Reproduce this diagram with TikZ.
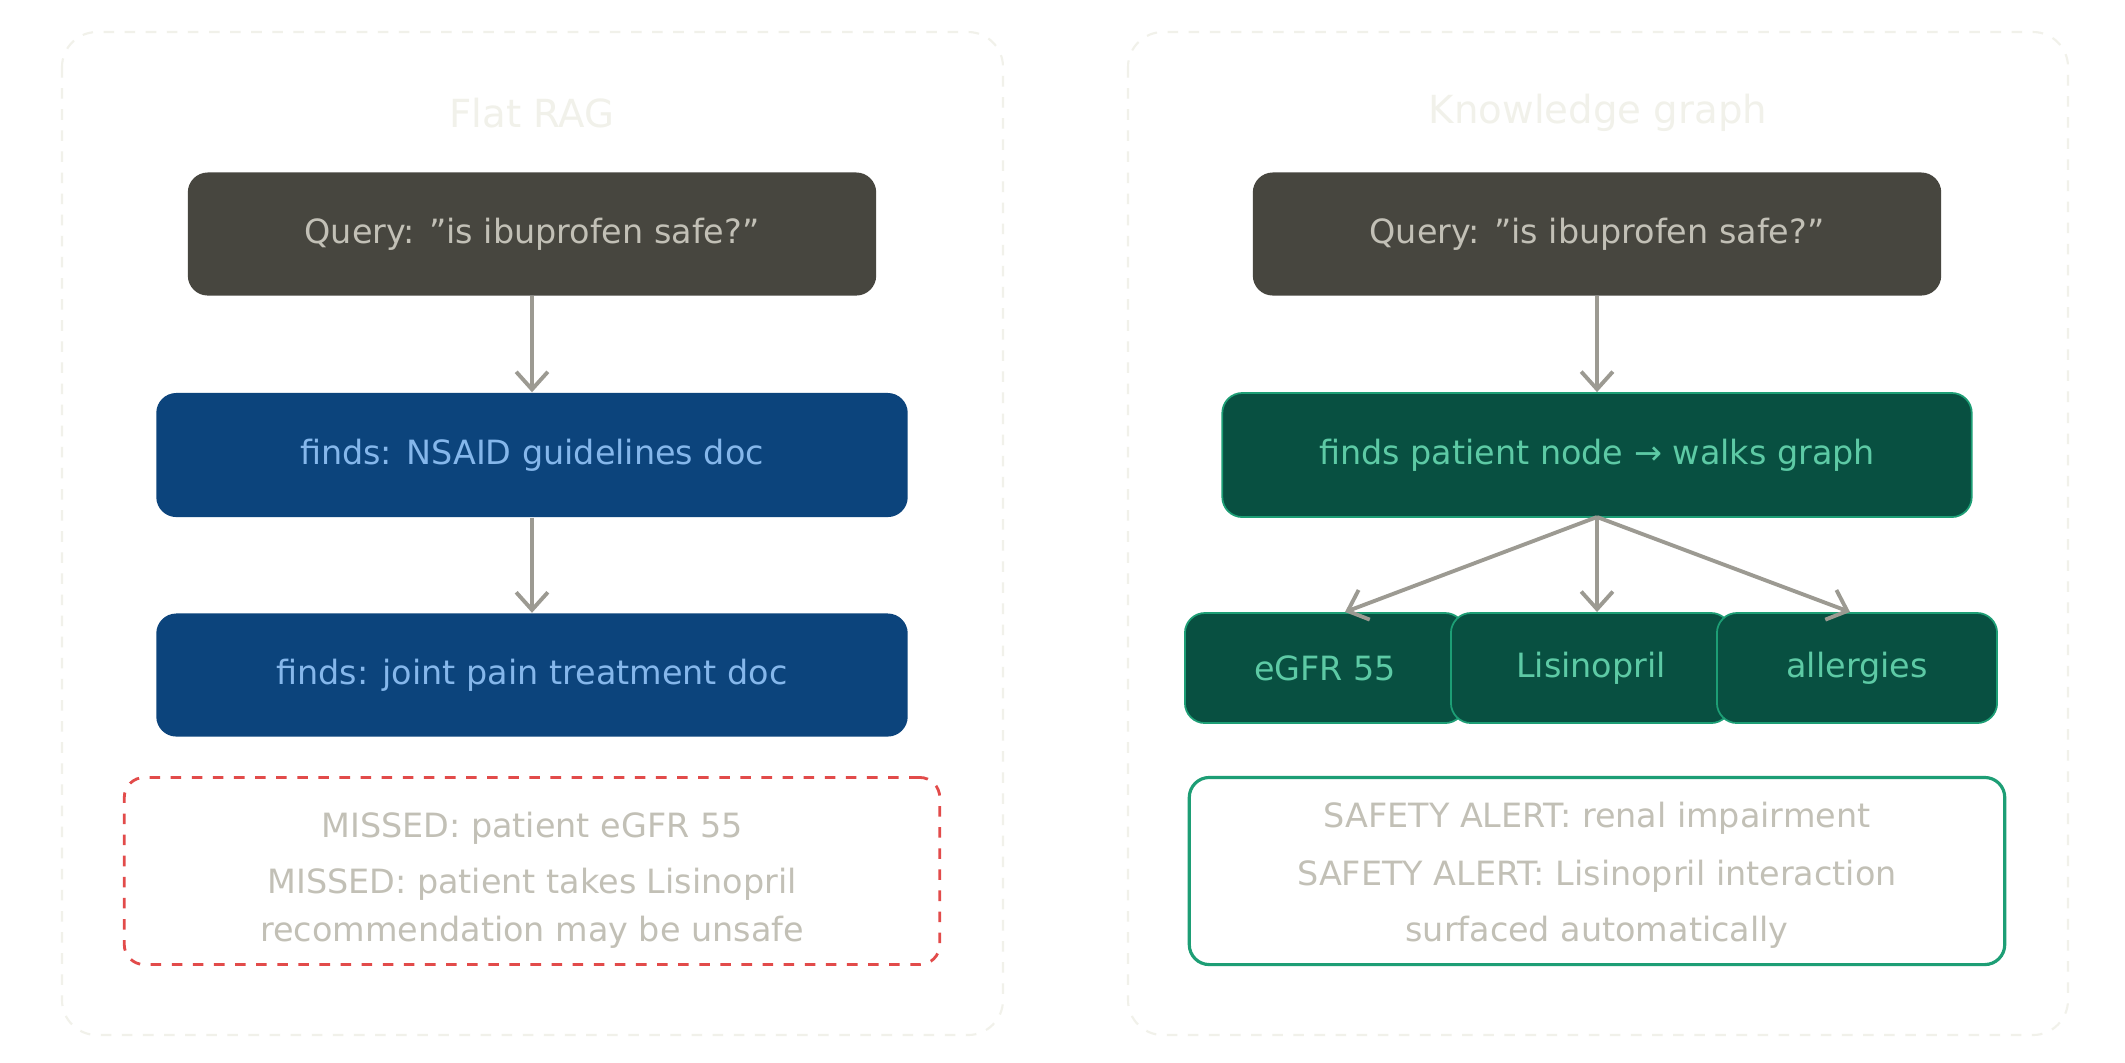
\documentclass[tikz,border=0pt]{standalone}
\usepackage{fontspec}
\setmainfont{DejaVu Sans}
\usetikzlibrary{arrows.meta}
\definecolor{qfill}{HTML}{47463F}
\definecolor{qtext}{HTML}{C2C0B6}
\definecolor{bfill}{HTML}{0C447C}
\definecolor{btext}{HTML}{85B7EB}
\definecolor{gfill}{HTML}{085041}
\definecolor{gtext}{HTML}{5DCAA5}
\definecolor{gline}{HTML}{1D9E75}
\definecolor{arr}{HTML}{9C9A92}
\definecolor{faint}{HTML}{F1F1EA}
\definecolor{redd}{HTML}{E24B4A}
\begin{document}
\begin{tikzpicture}[x=0.01cm,y=-0.01cm,
 box/.style={rounded corners=0.2cm,font=\fontsize{9.5pt}{12pt}\selectfont,align=center},
 panel/.style={draw=faint,dashed,rounded corners=0.35cm,line width=0.6pt},
 conn/.style={draw=arr,line width=1.1pt,-{Straight Barb[length=5pt,width=9pt]}}]
\useasboundingbox (0,0) rectangle (2125,1062);
\fill[white] (0,0) rectangle (2125,1062);
\draw[panel] (62,32) rectangle (1003,1035);
\draw[panel] (1128,32) rectangle (2068,1035);
\node[box,text=faint,font=\fontsize{11pt}{13pt}\selectfont] (t1) at (532,113) {Flat RAG};
\node[box,text=faint,font=\fontsize{11pt}{13pt}\selectfont] (t2) at (1598,113) {Knowledge graph};
% left
\node[box,fill=qfill,text=qtext,minimum width=6.88cm,minimum height=1.23cm] (q1) at (532,234) {Query: "is ibuprofen safe?"};
\node[box,fill=bfill,text=btext,minimum width=7.51cm,minimum height=1.24cm] (b1) at (532,455) {finds: NSAID guidelines doc};
\node[box,fill=bfill,text=btext,minimum width=7.51cm,minimum height=1.23cm] (b2) at (532,675) {finds: joint pain treatment doc};
\node[box,draw=redd,dashed,line width=0.8pt,text=qtext,minimum width=8.15cm,minimum height=1.87cm] (m) at (532,871) {};
\node[box,text=qtext] (m1) at (532,828) {MISSED: patient eGFR 55};
\node[box,text=qtext] (m2) at (532,884) {MISSED: patient takes Lisinopril};
\node[box,text=qtext] (m3) at (532,932) {recommendation may be unsafe};
\draw[conn] (q1) -- (b1);
\draw[conn] (b1) -- (b2);
% right
\node[box,fill=qfill,text=qtext,minimum width=6.88cm,minimum height=1.23cm] (q2) at (1597,234) {Query: "is ibuprofen safe?"};
\node[box,fill=gfill,draw=gline,line width=0.5pt,text=gtext,minimum width=7.49cm,minimum height=1.24cm] (g) at (1597,455) {finds patient node → walks graph};
\node[box,fill=gfill,draw=gline,line width=0.5pt,text=gtext,minimum width=2.8cm,minimum height=1.1cm] (s1) at (1325,668) {eGFR 55};
\node[box,fill=gfill,draw=gline,line width=0.5pt,text=gtext,minimum width=2.8cm,minimum height=1.1cm] (s2) at (1591,668) {Lisinopril};
\node[box,fill=gfill,draw=gline,line width=0.5pt,text=gtext,minimum width=2.8cm,minimum height=1.1cm] (s3) at (1857,668) {allergies};
\node[box,draw=gline,line width=0.9pt,minimum width=8.15cm,minimum height=1.87cm] (a) at (1597,871) {};
\node[box,text=qtext] (a1) at (1597,818) {SAFETY ALERT: renal impairment};
\node[box,text=qtext] (a2) at (1597,876) {SAFETY ALERT: Lisinopril interaction};
\node[box,text=qtext] (a3) at (1597,932) {surfaced automatically};
\coordinate (gb) at (1597,517);
\coordinate (e1) at (1345,612);
\coordinate (e2) at (1597,612);
\coordinate (e3) at (1850,612);
\draw[conn] (q2) -- (g);
\draw[conn] (gb) -- (e1);
\draw[conn] (gb) -- (e2);
\draw[conn] (gb) -- (e3);
\end{tikzpicture}
\end{document}
